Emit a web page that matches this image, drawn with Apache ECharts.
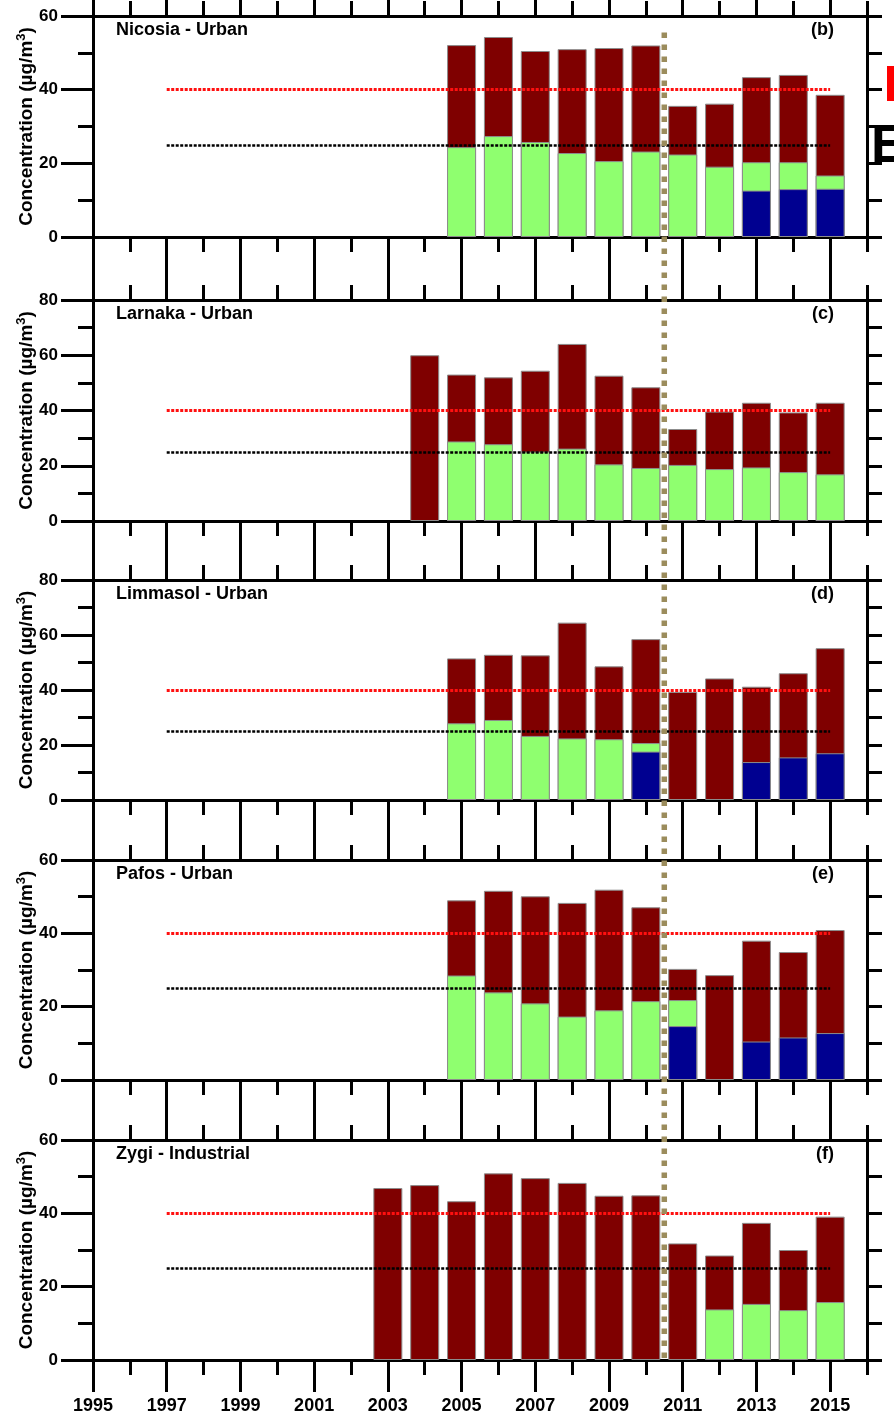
<!DOCTYPE html>
<html>
<head>
<meta charset="utf-8">
<script src="https://cdn.jsdelivr.net/npm/echarts@6/dist/echarts.min.js"></script>
<style>
html,body{margin:0;padding:0;background:#fff;}
#c{width:894px;height:1411px;}
</style>
</head>
<body>
<div id="c"></div>
<script>
// ---- data ----
const years = [2003,2004,2005,2006,2007,2008,2009,2010,2011,2012,2013,2014,2015];
const majorYears = [1995,1997,1999,2001,2003,2005,2007,2009,2011,2013,2015];
const minorYears = [1996,1998,2000,2002,2004,2006,2008,2010,2012,2014,2016];
const panelNames = ['Nicosia - Urban','Larnaka - Urban','Limmasol - Urban','Pafos - Urban','Zygi - Industrial'];
const panelTags = ['(b)','(c)','(d)','(e)','(f)'];
const yMaxes = [60,80,80,60,60];
const limitRed = 40, limitBlack = 25, limitFrom = 1997, limitTo = 2015;
const changeYear = 2010.5;

const nicosiaPM10 = [null,null,52.1,54.3,50.5,51.0,51.3,52.0,35.6,36.2,43.4,44.0,38.6];
const nicosiaPM25 = [null,null,24.4,27.4,25.8,22.8,20.6,23.2,22.4,19.1,20.3,20.3,16.7];
const nicosiaPM1  = [null,null,null,null,null,null,null,null,null,null,12.6,13.0,13.1];

const larnakaPM10 = [null,60.0,53.0,52.0,54.4,64.1,52.6,48.4,33.3,39.6,42.8,39.3,42.8];
const larnakaPM25 = [null,null,28.8,27.8,25.1,26.2,20.5,19.2,20.3,18.8,19.4,17.7,16.9];
const larnakaPM1  = [null,null,null,null,null,null,null,null,null,null,null,null,null];

const limassolPM10 = [null,null,51.5,52.8,52.6,64.5,48.6,58.5,39.3,44.2,41.2,46.1,55.2];
const limassolPM25 = [null,null,27.9,29.1,23.3,22.4,22.1,20.7,null,null,null,null,null];
const limassolPM1  = [null,null,null,null,null,null,null,17.6,null,null,13.8,15.5,17.0];

const pafosPM10 = [null,null,49.0,51.6,50.1,48.3,51.9,47.1,30.3,28.6,38.0,34.9,40.9];
const pafosPM25 = [null,null,28.5,23.9,20.9,17.3,19.0,21.5,21.8,null,null,null,null];
const pafosPM1  = [null,null,null,null,null,null,null,null,14.7,null,10.5,11.6,12.8];

const zygiPM10 = [46.9,47.7,43.3,50.9,49.6,48.3,44.8,44.9,31.8,28.5,37.4,30.0,39.1];
const zygiPM25 = [null,null,null,null,null,null,null,null,null,13.8,15.3,13.6,15.8];
const zygiPM1  = [null,null,null,null,null,null,null,null,null,null,null,null,null];

const panels = [
  [nicosiaPM10, nicosiaPM25, nicosiaPM1],
  [larnakaPM10, larnakaPM25, larnakaPM1],
  [limassolPM10, limassolPM25, limassolPM1],
  [pafosPM10, pafosPM25, pafosPM1],
  [zygiPM10, zygiPM25, zygiPM1]
];

// ---- layout / style ----
const FONT = 'Liberation Sans, Arial, sans-serif';
const gridBoxes = [
  {top:16, height:221},
  {top:300, height:221},
  {top:580, height:220},
  {top:860, height:220},
  {top:1140, height:220}
];
const colors = ['#7f0000', '#8fff6f', '#000090'];
const axisW = 3;

const grid = [], xAxis = [], yAxis = [], series = [], title = [];

function xAx(gi, pos, long, showLabel) {
  return {
    type:'value', gridIndex:gi, min:1995, max:2016, position:pos,
    axisLine:{show:true, onZero:false, lineStyle:{color:'#000', width:axisW}},
    axisTick:{show:true, customValues: long ? majorYears : minorYears, length: long ? 32 : 15,
      lineStyle:{color:'#000', width:axisW}},
    axisLabel:{show:showLabel, customValues: majorYears, margin:37, color:'#000',
      fontFamily:FONT, fontWeight:'bold', fontSize:18, formatter: v => String(v)},
    splitLine:{show:false}
  };
}

gridBoxes.forEach((g, gi) => {
  grid.push({left:93, right:27, top:g.top, height:g.height, containLabel:false, outerBoundsMode:'none'});
  // x axes: bottom long, bottom short, top long, top short
  xAxis.push(xAx(gi,'bottom',true, gi === 4));
  xAxis.push(xAx(gi,'bottom',false,false));
  xAxis.push(xAx(gi,'top',true,false));
  xAxis.push(xAx(gi,'top',false,false));
  yAxis.push({
    type:'value', gridIndex:gi, min:0, max:yMaxes[gi], interval:20, position:'left',
    axisLine:{show:true, onZero:false, lineStyle:{color:'#000', width:axisW}},
    axisTick:{show:true, length:32, lineStyle:{color:'#000', width:axisW}},
    minorTick:{show:true, splitNumber:2, length:15, lineStyle:{color:'#000', width:axisW}},
    axisLabel:{margin:35, color:'#000', fontFamily:FONT, fontWeight:'bold', fontSize:17},
    splitLine:{show:false}, minorSplitLine:{show:false},
    name:'{a|Concentration (µg/m}{s|3}{a|)}', nameLocation:'middle', nameGap:54,
    nameMoveOverlap:false,
    nameTextStyle:{
      rich:{
        a:{fontFamily:FONT, fontWeight:'bold', fontSize:19, color:'#000', lineHeight:24},
        s:{fontFamily:FONT, fontWeight:'bold', fontSize:13, color:'#000', verticalAlign:'top', lineHeight:24}
      }
    }
  });
  yAxis.push({
    type:'value', gridIndex:gi, min:0, max:yMaxes[gi], interval:10, position:'right',
    axisLine:{show:true, onZero:false, lineStyle:{color:'#000', width:axisW}},
    axisTick:{show:true, length:15, lineStyle:{color:'#000', width:axisW}},
    axisLabel:{show:false}, splitLine:{show:false}
  });
  const [pm10, pm25, pm1] = panels[gi];
  [pm10, pm25, pm1].forEach((arr, si) => {
    const s = {
      type:'bar', xAxisIndex:gi*4, yAxisIndex:gi*2,
      data: years.map((y, i) => [y, arr[i]]).filter(d => d[1] !== null),
      barWidth:29, barGap:'-100%',
      itemStyle:{color:colors[si], borderColor:'#8c8c8c', borderWidth:1},
      silent:true, animation:false
    };
    if (si === 0) {
      s.markLine = {
        silent:true, symbol:'none', animation:false,
        label:{show:false},
        lineStyle:{type:[3,1.5], width:3},
        data:[
          [{coord:[limitFrom, limitRed], lineStyle:{color:'#ff1010', type:[3,1.5], width:3}}, {coord:[limitTo, limitRed]}],
          [{coord:[limitFrom, limitBlack], lineStyle:{color:'#000', type:[3,1.5], width:2.5}}, {coord:[limitTo, limitBlack]}]
        ]
      };
    }
    series.push(s);
  });
  title.push({text:panelNames[gi], left:116, top:g.top+5, padding:0,
    textStyle:{fontFamily:FONT, fontWeight:'bold', fontSize:18, color:'#000'}});
  title.push({text:panelTags[gi], right:60, top:g.top+5, padding:0,
    textStyle:{fontFamily:FONT, fontWeight:'bold', fontSize:18, color:'#000'}});
});

const chart = echarts.init(document.getElementById('c'), null, {renderer:'canvas'});
chart.setOption({animation:false, backgroundColor:'#fff', grid, xAxis, yAxis, series, title});

// vertical khaki change line, positioned through the axes
const xp = chart.convertToPixel({xAxisIndex:0}, changeYear);
const yTop = chart.convertToPixel({yAxisIndex:0}, 55.5);
const yBot = chart.convertToPixel({yAxisIndex:8}, 0) + 3;
chart.setOption({
  graphic:[
    {type:'line', id:'chg', z:100, silent:true,
     shape:{x1:xp, y1:yTop, x2:xp, y2:yBot},
     style:{stroke:'#9b8c5c', lineWidth:5.5, lineDash:[5.5,6.5]}},
    {type:'rect', id:'leg1', z:100, silent:true, shape:{x:887, y:66, width:12, height:35}, style:{fill:'#ff0000'}},
    {type:'text', id:'leg2', z:100, silent:true, x:871, y:147,
     style:{text:'E', font:'bold 53px Liberation Sans', fill:'#000', verticalAlign:'middle'}}
  ]
});
</script>
</body>
</html>
